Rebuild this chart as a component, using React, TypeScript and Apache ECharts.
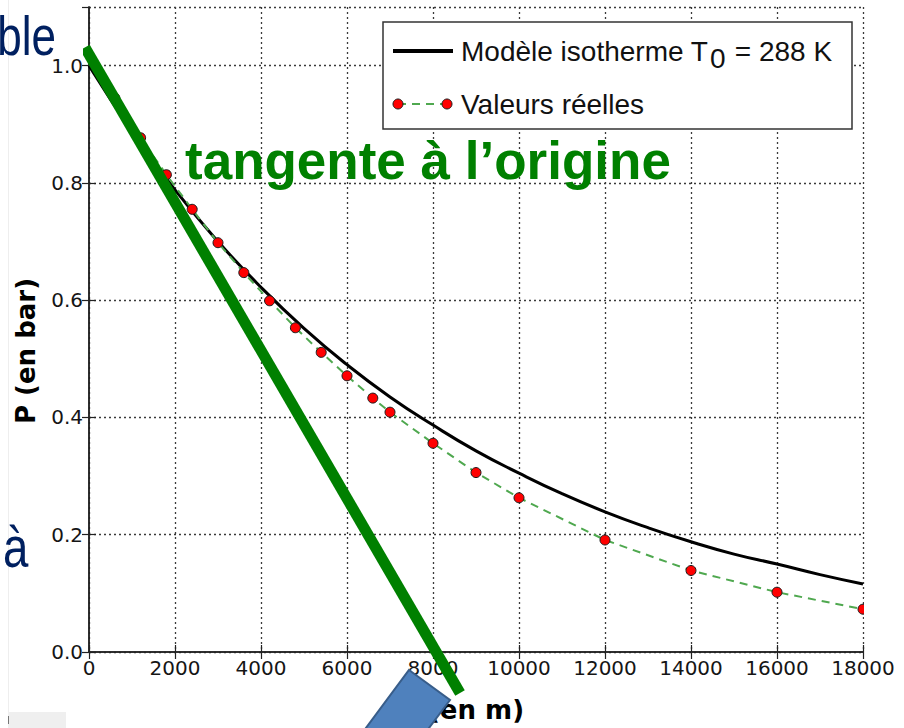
import React, { useEffect, useRef } from "react";
import * as echarts from "echarts";

// Modèle isotherme (T0 = 288 K)
const modelAltitudes = [0, 1000, 2000, 3000, 4000, 5000, 6000, 7000, 8000, 9000, 10000, 11000, 12000, 13000, 14000, 15000, 16000, 17000, 18000];
const modelPressures = [1.0, 0.888, 0.788, 0.7, 0.622, 0.552, 0.49, 0.435, 0.387, 0.343, 0.305, 0.27, 0.239, 0.212, 0.188, 0.167, 0.15, 0.132, 0.116];

// Valeurs réelles
const realAltitudes = [600, 1200, 1800, 2400, 3000, 3600, 4200, 4800, 5400, 6000, 6600, 7000, 8000, 9000, 10000, 12000, 14000, 16000, 18000];
const realPressures = [0.945, 0.877, 0.814, 0.755, 0.698, 0.647, 0.599, 0.553, 0.511, 0.471, 0.433, 0.409, 0.356, 0.306, 0.263, 0.191, 0.139, 0.102, 0.073];

// Tangente à l'origine (drawn end points)
const tangentAltitudes = [-93, 8628];
const tangentPressures = [1.031, -0.07];

const xMin = 0;
const xMax = 18000;
const xStep = 2000;
const yMin = 0;
const yMax = 1.1;
const yStep = 0.2;

const zip = (xs: number[], ys: number[]) => xs.map((x, i) => [x, ys[i]]);

const TICK_FONT = "DejaVu Sans";
const SANS = "Liberation Sans";

export default function App() {
  const ref = useRef<HTMLDivElement>(null);

  useEffect(() => {
    document.body.style.margin = "0";
    if (!ref.current) return;
    const chart = echarts.init(ref.current, undefined, { renderer: "svg" });

    const axisLine = { show: true, lineStyle: { color: "#222", width: 1.5 } };
    const axisTick = { show: true, inside: true, length: 7, lineStyle: { color: "#222", width: 1.2 } };
    const splitLine = { show: true, lineStyle: { type: [2, 3], color: "#3a3a3a", width: 1.3 } };

    const option: any = {
      animation: false,
      backgroundColor: "#ffffff",
      grid: { left: 89, top: 7, right: 41, bottom: 76, containLabel: false },
      xAxis: [
        {
          type: "value",
          min: xMin,
          max: xMax,
          interval: xStep,
          position: "bottom",
          axisLine,
          axisTick,
          splitLine,
          axisLabel: { color: "#151515", fontSize: 20, fontFamily: TICK_FONT, margin: 6, formatter: (v: number) => String(v) },
          name: "(en m)",
          nameLocation: "middle",
          nameGap: 45,
          nameTextStyle: { fontSize: 26, fontWeight: "bold", fontFamily: TICK_FONT, color: "#000" },
        },
        {
          type: "value",
          min: xMin,
          max: xMax,
          interval: xStep,
          position: "top",
          axisLine,
          axisTick,
          splitLine: { show: false },
          axisLabel: { show: false },
        },
      ],
      yAxis: [
        {
          type: "value",
          min: yMin,
          max: yMax,
          interval: yStep,
          position: "left",
          axisLine,
          axisTick,
          splitLine,
          axisLabel: {
            color: "#151515",
            fontSize: 20,
            fontFamily: TICK_FONT,
            margin: 6,
            showMaxLabel: false,
            formatter: (v: number) => v.toFixed(1),
          },
        },
        {
          type: "value",
          min: yMin,
          max: yMax,
          interval: yStep,
          position: "right",
          axisLine,
          axisTick,
          splitLine: { show: false },
          axisLabel: { show: false },
        },
      ],
      series: [
        {
          name: "Modèle isotherme T0 = 288 K",
          type: "line",
          data: zip(modelAltitudes, modelPressures),
          smooth: true,
          symbol: "none",
          lineStyle: { color: "#000", width: 3 },
          z: 3,
        },
        {
          name: "Valeurs réelles",
          type: "line",
          data: zip(realAltitudes, realPressures),
          symbol: "circle",
          symbolSize: 10,
          itemStyle: { color: "#ff0000", borderColor: "#1a1a1a", borderWidth: 1 },
          lineStyle: { color: "#4fa84f", width: 2, type: [8, 6] },
          z: 4,
        },
        {
          name: "tangente à l’origine",
          type: "line",
          data: zip(tangentAltitudes, tangentPressures),
          symbol: "none",
          clip: false,
          lineStyle: { color: "#008000", width: 11, cap: "butt" },
          z: 10,
        },
      ],
      graphic: [
        // mask of right half of the last dot (outside the plot)
        { type: "rect", z: 50, shape: { x: 864, y: 598, width: 14, height: 22 }, style: { fill: "#ffffff" } },
        // legend
        { type: "rect", z: 60, shape: { x: 383, y: 22, width: 469, height: 107 }, style: { fill: "#ffffff", stroke: "#333", lineWidth: 1.5 } },
        { type: "line", z: 61, shape: { x1: 393, y1: 51, x2: 453, y2: 51 }, style: { stroke: "#000", lineWidth: 4 } },
        { type: "text", z: 61, x: 461, y: 51, style: { text: "Modèle isotherme T", fontSize: 28, fontFamily: SANS, fill: "#111", align: "left", verticalAlign: "middle" } },
        { type: "text", z: 61, x: 710, y: 58, style: { text: "0", fontSize: 28, fontFamily: SANS, fill: "#111", align: "left", verticalAlign: "middle" } },
        { type: "text", z: 61, x: 727, y: 51, style: { text: " = 288 K", fontSize: 28, fontFamily: SANS, fill: "#111", align: "left", verticalAlign: "middle" } },
        { type: "line", z: 61, shape: { x1: 398, y1: 104, x2: 447, y2: 104 }, style: { stroke: "#4fa84f", lineWidth: 2, lineDash: [8, 6] } },
        { type: "circle", z: 62, shape: { cx: 398, cy: 104, r: 5 }, style: { fill: "#ff0000", stroke: "#1a1a1a", lineWidth: 1 } },
        { type: "circle", z: 62, shape: { cx: 447, cy: 104, r: 5 }, style: { fill: "#ff0000", stroke: "#1a1a1a", lineWidth: 1 } },
        { type: "text", z: 61, x: 461, y: 104, style: { text: "Valeurs réelles", fontSize: 28, fontFamily: SANS, fill: "#111", align: "left", verticalAlign: "middle" } },
        // y axis name
        { type: "text", z: 40, x: 26, y: 351, rotation: Math.PI / 2, style: { text: "P (en bar)", fontSize: 26, fontWeight: "bold", fontFamily: TICK_FONT, fill: "#000", align: "center", verticalAlign: "middle" } },
        // annotation
        { type: "text", z: 70, x: 185, y: 160, style: { text: "tangente à l’origine", fontSize: 53, fontWeight: "bold", fontFamily: SANS, fill: "#008000", align: "left", verticalAlign: "middle" } },
        // slide fragments
        { type: "text", z: 70, x: 56, y: 36, scaleX: 0.8, style: { text: "ble", fontSize: 55, fontFamily: SANS, fill: "#002060", align: "right", verticalAlign: "middle" } },
        { type: "text", z: 70, x: 3, y: 547, scaleX: 0.8, style: { text: "à", fontSize: 57, fontFamily: SANS, fill: "#002060", align: "left", verticalAlign: "middle" } },
        { type: "line", z: 1, shape: { x1: 8.5, y1: 0, x2: 8.5, y2: 712 }, style: { stroke: "#eeeeee", lineWidth: 1 } },
        { type: "rect", z: 70, shape: { x: 8, y: 712, width: 58, height: 16 }, style: { fill: "#efefef" } },
        { type: "line", z: 71, shape: { x1: 8.5, y1: 716, x2: 8.5, y2: 724 }, style: { stroke: "#777", lineWidth: 1 } },
        { type: "polygon", z: 80, shape: { points: [[409, 670], [450, 700], [420, 740], [357, 740]] }, style: { fill: "#4f81bd", stroke: "#385d8a", lineWidth: 2 } },
      ],
    };

    chart.setOption(option);
    return () => chart.dispose();
  }, []);

  return <div ref={ref} style={{ position: "absolute", left: 0, top: 0, width: 904, height: 728 }} />;
}
